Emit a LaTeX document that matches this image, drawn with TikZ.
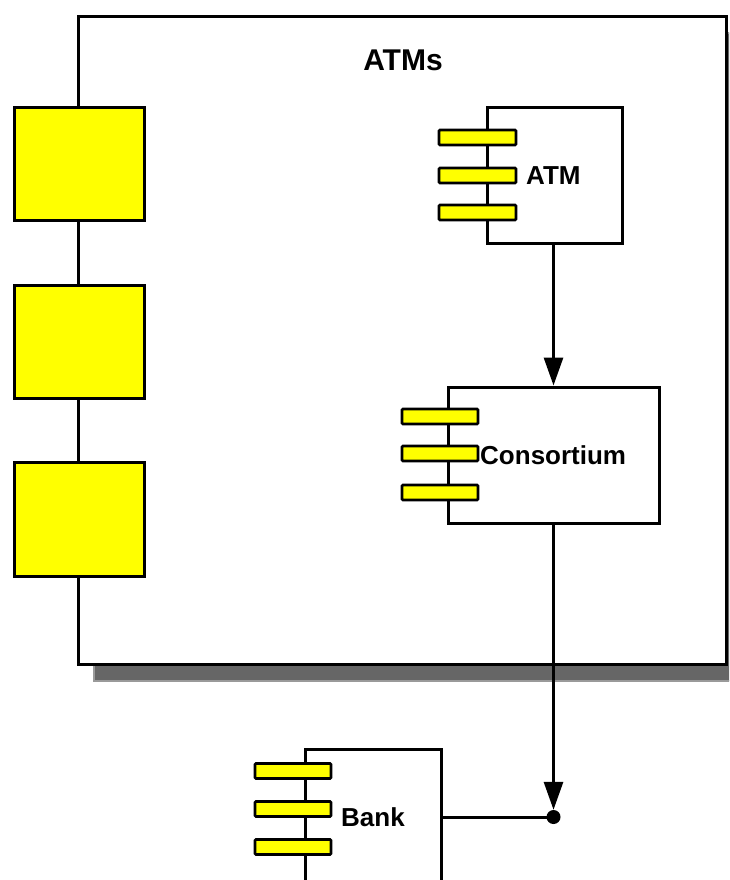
\documentclass[tikz,border=0pt]{standalone}
\usepackage{fontspec}
\setmainfont{Liberation Sans}
\usetikzlibrary{arrows.meta,positioning,calc}
\definecolor{ylw}{HTML}{FFFF00}
\definecolor{shadowgray}{HTML}{666666}
\definecolor{shadowedge}{HTML}{9A9A9A}
\tikzset{
  frame/.style={draw=black, line width=3pt, fill=white},
  port/.style={draw=black, line width=3pt, fill=ylw, minimum width=130pt, inner sep=0pt},
  compbox/.style={draw=black, line width=3pt, fill=white, minimum width=#1, minimum height=136pt, inner sep=0pt},
  bar/.style={draw=black, line width=2.6pt, fill=ylw, rounded corners=1pt, minimum width=76pt, minimum height=15pt, inner sep=0pt},
  lbl/.style={font=\bfseries\fontsize{26}{26}\selectfont, anchor=west, inner sep=0pt},
  conn/.style={draw=black, line width=3pt},
  arr/.style={conn, -{Triangle[length=28pt,width=19pt]}},
  junction/.style={circle, fill=black, draw=none, minimum size=14pt, inner sep=0pt},
}
\begin{document}
\begin{tikzpicture}[x=1pt,y=-1pt]
\clip (0,0) rectangle (729,880);
\fill[white] (0,0) rectangle (729,880);
% shadow
\fill[shadowgray, draw=shadowedge, line width=1.5pt] (94,33) rectangle (745,681);
% main frame
\node[frame, minimum width=648pt, minimum height=647pt, inner sep=0pt] (atms) at (402.5,340.5) {};
\node[font=\bfseries\fontsize{30}{30}\selectfont, inner sep=0pt] (atmstitle) at (403,60) {ATMs};
% left ports
\node[port, minimum height=112pt] (p1) at (79,164) {};
\node[port, minimum height=113pt] (p2) at (79,341.5) {};
\node[port, minimum height=114pt] (p3) at (79,519) {};
% ATM component
\node[compbox=135pt, minimum height=135pt] (atm) at (554.5,175.5) {};
\node[bar, minimum width=77pt] (atmb1) at (477.5,137.5) {};
\node[bar, minimum width=77pt] (atmb2) at (477.5,175.5) {};
\node[bar, minimum width=77pt] (atmb3) at (477.5,212.5) {};
\node[lbl] (atmlbl) at (526,176) {ATM};
% Consortium component
\node[compbox=211pt] (cons) at (553.5,455) {};
\node[bar] (consb1) at (440,416.5) {};
\node[bar] (consb2) at (440,453.5) {};
\node[bar] (consb3) at (440,492.5) {};
\node[lbl] (conslbl) at (480,455) {Consortium};
% Bank component
\node[compbox=136pt] (bank) at (373,817) {};
\node[bar] (bankb1) at (293,771) {};
\node[bar] (bankb2) at (293,809) {};
\node[bar] (bankb3) at (293,847) {};
\node[lbl] (banklbl) at (341,817) {Bank};
% junction
\node[junction] (dot) at (553.5,817) {};
% connectors
\draw[arr] (cons.north |- atm.south) -- (cons.north);
\draw[arr] (cons.south) -- (dot.north);
\draw[conn] (bank.east) -- (dot.center);
\end{tikzpicture}
\end{document}
